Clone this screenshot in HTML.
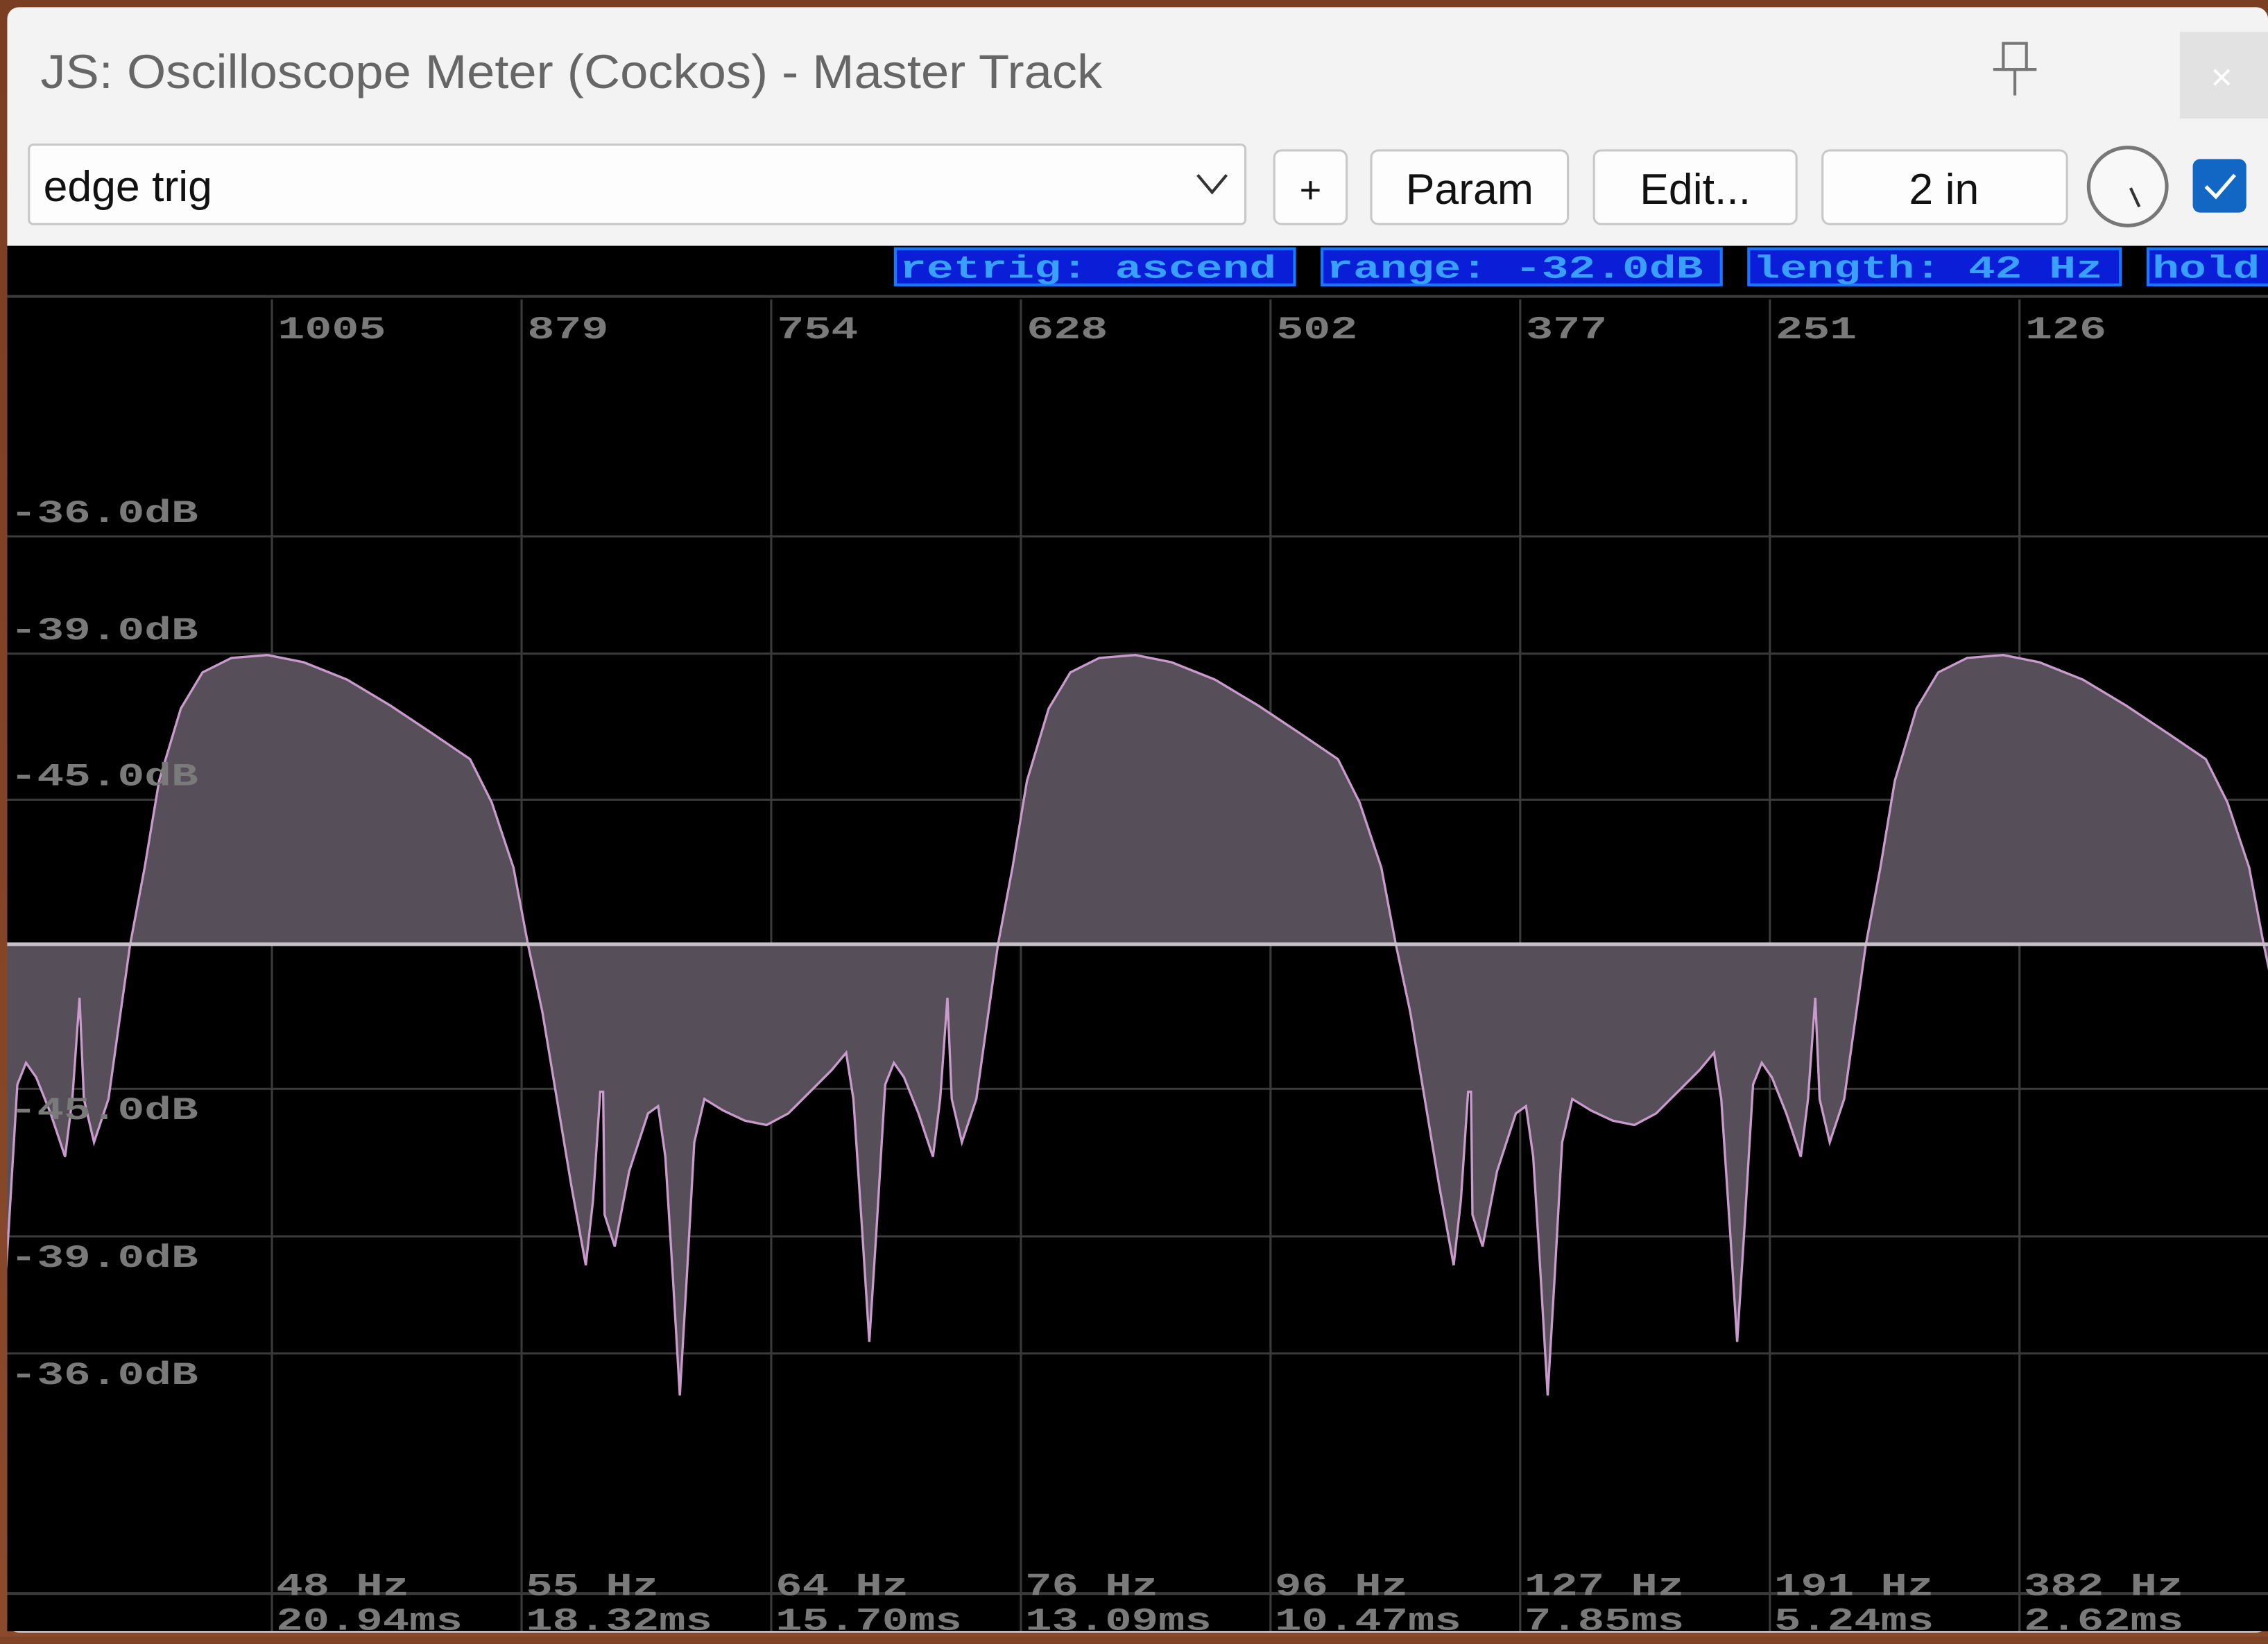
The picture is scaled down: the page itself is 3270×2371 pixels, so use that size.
<!DOCTYPE html>
<html><head><meta charset="utf-8"><style>
html,body{margin:0;padding:0;background:#7f4426;overflow:hidden;width:3270px;height:2360px}
#stage{position:absolute;left:0;top:0;width:1568px;height:1132px;transform:scale(2.08546);transform-origin:0 0;background:linear-gradient(#7a3e22,#8a4a2c)}
</style></head><body>
<div id="stage">
<svg width="1568" height="1132" viewBox="0 0 1568 1132" xmlns="http://www.w3.org/2000/svg">
  <rect x="5" y="5" width="1563" height="1124" rx="8" fill="#f3f3f3"/>
  <text x="28" y="61" font-family="Liberation Sans, sans-serif" font-size="33" fill="#666" textLength="734" lengthAdjust="spacingAndGlyphs">JS: Oscilloscope Meter (Cockos) - Master Track</text>
  <g stroke="#777" stroke-width="2" fill="none">
    <rect x="1385" y="30" width="16" height="18"/><line x1="1378" y1="48" x2="1408" y2="48"/><line x1="1393" y1="48" x2="1393" y2="66"/>
  </g>
  <rect x="1507" y="22" width="61" height="60" fill="#e2e2e2"/>
  <text x="1536" y="62" font-family="Liberation Sans, sans-serif" font-size="26" fill="#fff" text-anchor="middle">×</text>
  <rect x="20" y="100" width="841" height="55" rx="3" fill="#fdfdfd" stroke="#c8c8c8" stroke-width="1.5"/>
  <text x="30" y="139" font-family="Liberation Sans, sans-serif" font-size="30" fill="#111">edge trig</text>
  <polyline points="828,121 838,133 848,121" fill="none" stroke="#333" stroke-width="2"/>
  <rect x="881" y="104" width="50" height="51" rx="5" fill="#fdfdfd" stroke="#c8c8c8" stroke-width="1.5"/>
  <text x="906" y="140" font-family="Liberation Sans, sans-serif" font-size="26" fill="#111" text-anchor="middle">+</text>
  <rect x="948" y="104" width="136" height="51" rx="5" fill="#fdfdfd" stroke="#c8c8c8" stroke-width="1.5"/>
  <text x="1016" y="141" font-family="Liberation Sans, sans-serif" font-size="30" fill="#111" text-anchor="middle">Param</text>
  <rect x="1102" y="104" width="140" height="51" rx="5" fill="#fdfdfd" stroke="#c8c8c8" stroke-width="1.5"/>
  <text x="1172" y="141" font-family="Liberation Sans, sans-serif" font-size="30" fill="#111" text-anchor="middle">Edit...</text>
  <rect x="1260" y="104" width="169" height="51" rx="5" fill="#fdfdfd" stroke="#c8c8c8" stroke-width="1.5"/>
  <text x="1344" y="141" font-family="Liberation Sans, sans-serif" font-size="30" fill="#111" text-anchor="middle">2 in</text>
  <circle cx="1471" cy="129" r="27" fill="#f8f8f8" stroke="#777" stroke-width="2.5"/>
  <line x1="1473" y1="130" x2="1479" y2="143" stroke="#333" stroke-width="2"/>
  <rect x="1516" y="110" width="37" height="37" rx="5" fill="#1266c4"/>
  <polyline points="1525,129 1532,136 1545,121" fill="none" stroke="#fff" stroke-width="2.5"/>

  <rect x="5" y="170" width="1563" height="958" fill="#000"/>
  <g id="grid"></g>
  <g id="wave"></g>
  <g id="labels"></g>
  <g id="status"></g>
</svg>
</div>
<script>
// ---- chart data ----
const topTicks = ["1005","879","754","628","502","377","251","126"];
const freqTicks = ["48 Hz","55 Hz","64 Hz","76 Hz","96 Hz","127 Hz","191 Hz","382 Hz"];
const msTicks = ["20.94ms","18.32ms","15.70ms","13.09ms","10.47ms","7.85ms","5.24ms","2.62ms"];
const dbLevels = [1, 0.8, 0.5, -0.5, -0.8, -1];      // normalised grid positions
const dbLabels = ["-36.0dB","-39.0dB","-45.0dB","-45.0dB","-39.0dB","-36.0dB"];
const statusLabels = ["retrig: ascend","range: -32.0dB","length: 42 Hz","hold"];
// one waveform period: sample phase (0..600) and normalised amplitude
const phase = [0,10,20,35,50,70,95,120,150,180,210,235,250,265,275,
  285,295,305,315,320,325,327,328,335,345,358,365,370,375,380,385,390,397,410,425,440,455,470,485,495,500,506,511,516,522,528,535,545,555,560,565,568,575,585,592,600];
const amp = [0,0.265,0.565,0.815,0.94,0.99,1.0,0.975,0.915,0.825,0.725,0.64,0.49,0.265,0,
  -0.235,-0.535,-0.835,-1.11,-0.885,-0.51,-0.51,-0.935,-1.045,-0.785,-0.585,-0.56,-0.735,-1.135,-1.56,-1.135,-0.685,-0.535,-0.575,-0.61,-0.625,-0.585,-0.51,-0.435,-0.375,-0.535,-0.985,-1.375,-0.985,-0.485,-0.41,-0.46,-0.585,-0.735,-0.535,-0.185,-0.535,-0.685,-0.535,-0.285,0];
const periodLen = 600;
const firstCross = 90;

// ---- axes ----
const X0 = 188, XSTEP = 172.6;
const yCenter = 653, yScale = 200;
const xTick = i => X0 + i * XSTEP;
const yAmp = v => yCenter - v * yScale;
const yDb = v => v > 0 ? yCenter - (v===1?282:v===0.8?201:100) : yCenter + (v===-1?283:v===-0.8?202:100);
const xPhase = (p, k) => firstCross + k * periodLen + p;

const NS = "http://www.w3.org/2000/svg";
function mk(tag, attrs, parent){ const e=document.createElementNS(NS,tag); for(const k in attrs) e.setAttribute(k,attrs[k]); parent.appendChild(e); return e; }

const grid = document.getElementById('grid');
let l = mk('line',{x1:5,x2:1568,y1:205,y2:205,stroke:'#3a3a3a','stroke-width':2},grid);


l = mk('line',{x1:5,x2:1568,y1:1102,y2:1102,stroke:'#3a3a3a','stroke-width':2},grid);


topTicks.forEach((t,i)=>{
  const g = mk('line',{x1:xTick(i),x2:xTick(i),y1:207,y2:1128,stroke:'#3a3a3a','stroke-width':1.5},grid);
  
  
});
dbLevels.forEach(v=>{
  const g = mk('line',{x1:5,x2:1568,y1:yDb(v),y2:yDb(v),stroke:'#3a3a3a','stroke-width':1.5},grid);
  
  
});

const wave = document.getElementById('wave');
const clip = mk('clipPath',{id:'pc'},wave);
mk('rect',{x:5,y:207,width:1563,height:921},clip);
const wg = mk('g',{'clip-path':'url(#pc)'},wave);
for(let k=-1;k<=2;k++){
  const pts = phase.map((p,i)=>xPhase(p,k).toFixed(1)+','+yAmp(amp[i]).toFixed(1));
  const area = mk('polygon',{points:xPhase(0,k)+','+yCenter+' '+pts.join(' ')+' '+xPhase(periodLen,k)+','+yCenter,fill:'#564e58'},wg);
  
  
  const line = mk('polyline',{points:pts.join(' '),fill:'none',stroke:'#c99bcc','stroke-width':1.6},wg);
  
  
}
const zl = mk('line',{x1:5,x2:1568,y1:yCenter,y2:yCenter,stroke:'#c8c0c8','stroke-width':2.5},wave);



const lab = document.getElementById('labels');
const font = 'Liberation Mono, monospace';
function txt(s,x,y,w,name,fill,parent){
  const t = mk('text',{x:x,y:y,'font-family':font,'font-size':22,'font-weight':'bold',fill:fill,textLength:w,lengthAdjust:'spacingAndGlyphs'},parent);
  t.textContent = s;
  
  
  return t;
}
topTicks.forEach((s,i)=>txt(s,xTick(i)+4,234,s.length*18.7,'top-tick-label','#7a7a7a',lab));
freqTicks.forEach((s,i)=>txt(s,xTick(i)+3,1103,s.length*18.4,'frequency-label','#7a7a7a',lab));
msTicks.forEach((s,i)=>txt(s,xTick(i)+3,1127,s.length*18.4,'time-label','#7a7a7a',lab));
dbLevels.forEach((v,i)=>txt(dbLabels[i],7,v>0?yDb(v)-10:yDb(v)+21,130,'db-label','#7a7a7a',lab));

const st = document.getElementById('status');
const boxes = [[619,276],[914,276],[1209,257],[1485,90]];
statusLabels.forEach((s,i)=>{
  const r = mk('rect',{x:boxes[i][0],y:172,width:boxes[i][1],height:25,fill:'#0a1ed8',stroke:'#1a78ff','stroke-width':2},st);
  
  
  txt(s,boxes[i][0]+3,192,Math.min(s.length*18.6,boxes[i][1]-6),'status-label','#3aa0ff',st);
});
</script>
</body></html>
